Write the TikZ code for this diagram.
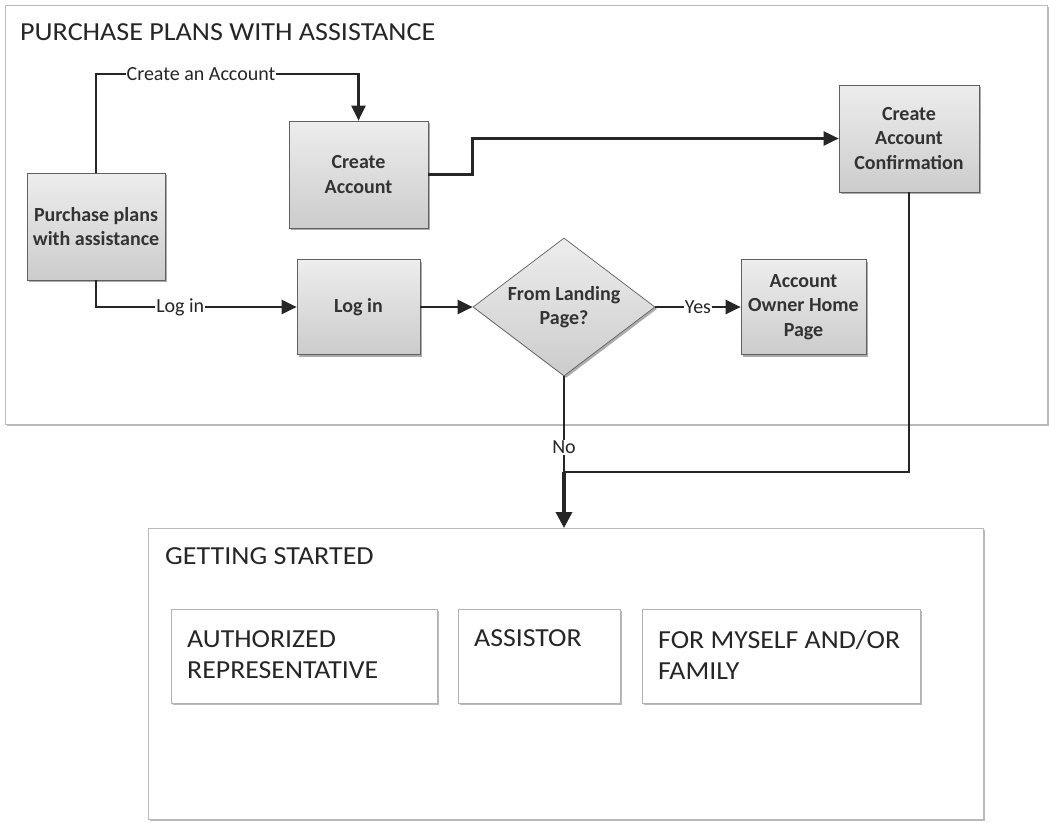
\documentclass[tikz,border=0pt]{standalone}
\usepackage{fontspec}
\setmainfont{Carlito}
\newfontfamily\wideheadfont[FakeStretch=1.08]{Carlito}
\newfontfamily\wideboxfont[FakeStretch=1.07]{Carlito}
\usetikzlibrary{arrows.meta,shapes.geometric,shadows,calc}
\begin{document}
\begin{tikzpicture}[x=1pt,y=-1pt,
  font=\fontsize{20}{24}\selectfont,
  panel/.style={draw=gray!55, line width=0.8pt, fill=white, inner sep=0pt, anchor=north west,
    drop shadow={shadow xshift=1.5pt, shadow yshift=-1.5pt, fill=gray!55, opacity=1}},
  proc/.style={draw=gray!75!black, line width=0.7pt, top color=gray!14, bottom color=gray!40,
    inner sep=0pt, align=center, font=\fontsize{20}{24.5}\selectfont\bfseries, text=black!80,
    drop shadow={shadow xshift=2pt, shadow yshift=-2pt, fill=gray!65, opacity=1}},
  decide/.style={proc, diamond, aspect=1.32},
  inbox/.style={draw=gray!60, line width=0.7pt, fill=white, inner sep=0pt, anchor=north west,
    drop shadow={shadow xshift=2pt, shadow yshift=-2pt, fill=gray!55, opacity=1}},
  boxtext/.style={anchor=north west, inner sep=0pt, align=left, font=\wideboxfont\fontsize{26}{31}\selectfont, text=black!85},
  heading/.style={anchor=base west, inner sep=0pt, font=\wideheadfont\fontsize{26}{30}\selectfont, text=black!85},
  flow/.style={draw=black!85, line width=2.4pt},
  arr/.style={flow, -{Triangle[length=15pt,width=14pt]}},
  lbl/.style={fill=white, inner sep=1pt, font=\fontsize{20}{24}\selectfont, text=black!85},
]
\fill[white] (0,0) rectangle (1049,822);
\useasboundingbox (0,0) rectangle (1049,822);

% top panel
\node[panel, minimum width=1042pt, minimum height=419pt] (pp) at (5,5) {};
\node[heading] (ppt) at (20,40) {PURCHASE PLANS WITH ASSISTANCE};

\node[proc, minimum width=138pt, minimum height=107pt] (pur) at (96,226.5) {Purchase plans\\with assistance};
\node[proc, minimum width=139pt, minimum height=107pt] (ca) at (358.5,174.5) {Create\\Account};
\node[proc, minimum width=123pt, minimum height=95pt] (login) at (358.5,307) {Log in};
\node[decide, minimum width=182pt, minimum height=138pt] (dec) at (564,307) {From Landing\\Page?};
\node[proc, minimum width=125pt, minimum height=95pt] (own) at (803.5,307) {Account\\Owner Home\\Page};
\node[proc, minimum width=140pt, minimum height=107pt] (conf) at (909,138.5) {Create\\Account\\Confirmation};

% bottom panel
\node[panel, minimum width=835pt, minimum height=291pt] (gs) at (148,528) {};
\node[heading] (gst) at (165,564) {GETTING STARTED};
\node[inbox, minimum width=266pt, minimum height=94pt] (auth) at (171,609) {};
\node[inbox, minimum width=162pt, minimum height=94pt] (asst) at (458,609) {};
\node[inbox, minimum width=278pt, minimum height=94pt] (fam) at (642,609) {};
\node[boxtext] (authT) at ($(auth.north west)+(16,21)$) {AUTHORIZED\\REPRESENTATIVE};
\node[boxtext] (asstT) at ($(asst.north west)+(16,20)$) {ASSISTOR};
\node[boxtext] (famT) at ($(fam.north west)+(16,21)$) {FOR MYSELF AND/OR\\FAMILY};

% connectors
\draw[arr] (pur.north) |- node[lbl,pos=0.7]{Create an Account} (ca.north |- 0,74) -- (ca.north);
\draw[arr] (pur.south) |- node[lbl,pos=0.71]{Log in} (login.west);
\draw[arr] (login.east) -- (dec.west);
\draw[arr] (ca.east) -- ++(44,0) |- (conf.west);
\draw[arr] (dec.east) -- node[lbl]{Yes} (own.west);
\coordinate (j) at (dec.south |- 0,472);
\draw[flow] (dec.south) -- node[lbl,pos=0.74]{No} (j);
\draw[flow] (conf.south) |- (j);
\draw[flow, line width=3.5pt, -{Triangle[length=16pt,width=16pt]}] (j) -- (j |- gs.north);
\end{tikzpicture}
\end{document}
